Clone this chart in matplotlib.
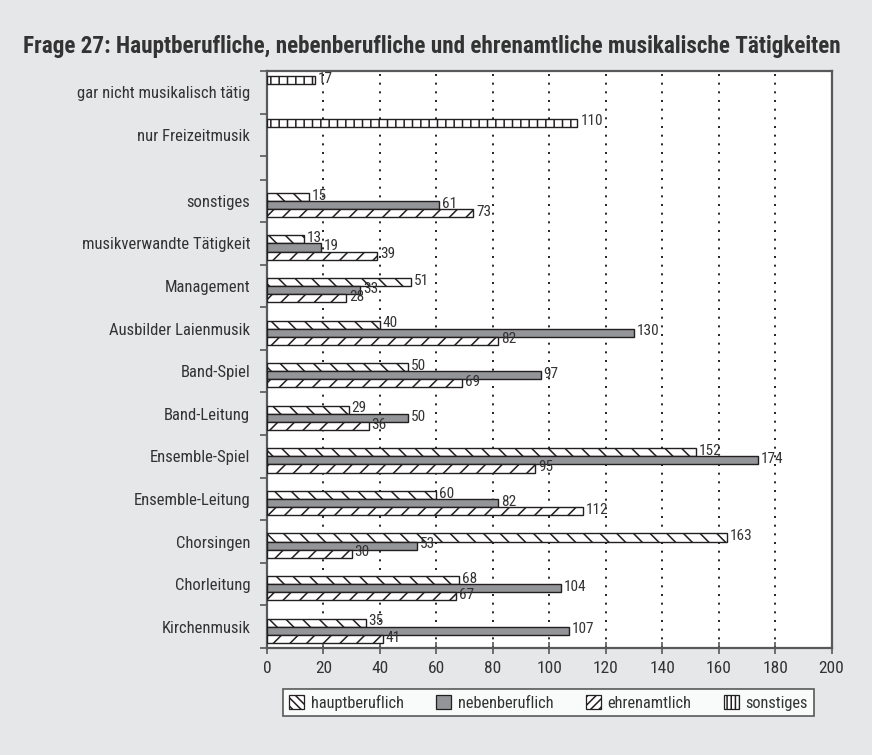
import numpy as np
import matplotlib
matplotlib.use("Agg")
from matplotlib import pyplot as plt
from matplotlib import font_manager
from matplotlib.patches import Patch

# categories top to bottom ("" is the blank spacer row)
categories = ["gar nicht musikalisch tätig", "nur Freizeitmusik", "",
              "sonstiges", "musikverwandte Tätigkeit", "Management",
              "Ausbilder Laienmusik", "Band-Spiel", "Band-Leitung",
              "Ensemble-Spiel", "Ensemble-Leitung", "Chorsingen",
              "Chorleitung", "Kirchenmusik"]

sonstiges_vals = [17, 110, None, None, None, None, None, None, None, None, None, None, None, None]
haupt_vals = [None, None, None, 15, 13, 51, 40, 50, 29, 152, 60, 163, 68, 35]
neben_vals = [None, None, None, 61, 19, 33, 130, 97, 50, 174, 82, 53, 104, 107]
ehren_vals = [None, None, None, 73, 39, 28, 82, 69, 36, 95, 112, 30, 67, 41]

series_names = ["sonstiges", "hauptberuflich", "nebenberuflich", "ehrenamtlich"]
x_ticks = list(range(0, 201, 20))

# pick a narrow font if there is one
names = {f.name for f in font_manager.fontManager.ttflist}
main_font = "DejaVu Sans"
for cand in ["Liberation Sans Narrow", "Roboto Condensed", "Open Sans Condensed",
             "DejaVu Sans Condensed", "Liberation Sans"]:
    if cand in names:
        main_font = cand
        break
plt.rcParams["font.family"] = [main_font, "DejaVu Sans"]
plt.rcParams["hatch.linewidth"] = 1.1

bg = "#e6e7e8"
txt = "#333333"
edge = "#231f20"
spine_col = "#58595b"

fig = plt.figure(figsize=(8.72, 7.55), dpi=100, facecolor=bg)
ax = fig.add_axes([0.3062, 0.1417, 0.6474, 0.7643])
ax.set_facecolor("white")

# slot heights (spacer row is narrower)
slot = np.array([0.55 if c == "" else 1.0 for c in categories])
bounds = np.concatenate([[0], np.cumsum(slot)])
centers = (bounds[:-1] + bounds[1:]) / 2

bh = 0.19
styles = [
    dict(color="white", hatch="||"),
    dict(color="white", hatch="\\\\"),
    dict(color="#939598", hatch=None),
    dict(color="white", hatch="//"),
]
# denser hatches for the small legend squares
legend_hatch = ["||||", "\\\\\\\\", None, "////"]
all_vals = [sonstiges_vals, haupt_vals, neben_vals, ehren_vals]

for k, (vals, st) in enumerate(zip(all_vals, styles)):
    offs = (k - 1.5) * bh
    for i, v in enumerate(vals):
        if v is None:
            continue
        y = centers[i] + offs
        ax.barh(y, v, height=bh, color=st["color"], hatch=st["hatch"],
                edgecolor=edge, linewidth=1.0, zorder=3)
        ax.text(v + 1.0, y - 0.03, str(v), va="center", ha="left",
                fontsize=11, color=txt, zorder=4)

ax.set_xlim(0, 200)
ax.set_ylim(bounds[-1], 0)
ax.set_xticks(x_ticks)
ax.set_xticklabels([str(t) for t in x_ticks], fontsize=12.5, color=txt)
ax.set_yticks(bounds)
ax.set_yticklabels([])
ax.set_yticks(centers, minor=True)
ax.set_yticklabels(categories, minor=True, fontsize=12, color=txt)
ax.tick_params(axis="y", which="minor", length=0, pad=12)
ax.tick_params(axis="y", which="major", direction="out", length=5,
               color=spine_col, width=1.2)
ax.tick_params(axis="x", direction="inout", length=8, color=spine_col,
               width=1.2, pad=5)

for s in ax.spines.values():
    s.set_color(spine_col)
    s.set_linewidth(1.6)

for t in x_ticks[1:-1]:
    ax.axvline(t, color="black", linestyle=(0, (1.2, 4)), linewidth=1.2, zorder=1)

title = fig.text(0.026, 0.939,
                 "Frage 27: Hauptberufliche, nebenberufliche und ehrenamtliche musikalische Tätigkeiten",
                 fontsize=13.5, fontweight="bold", color=txt, ha="left", va="center")
# size the title so it spans the same width as in the print
fig.canvas.draw()
w = title.get_window_extent().width
title.set_fontsize(13.5 * 822 / w)

handles = [Patch(facecolor=styles[k]["color"], hatch=legend_hatch[k],
                 edgecolor=edge, linewidth=0.9) for k in (1, 2, 3, 0)]
labels = [series_names[k] for k in (1, 2, 3, 0)]
leg = fig.legend(handles, labels, loc="center", bbox_to_anchor=(0.629, 0.0695),
                 ncol=4, frameon=True, fancybox=False, fontsize=11.8,
                 handlelength=0.9, handleheight=0.9, handletextpad=0.4,
                 columnspacing=2.0, borderpad=0.35, borderaxespad=0, edgecolor="#333333")
leg.get_frame().set_linewidth(1.2)
for t in leg.get_texts():
    t.set_color(txt)

fig.savefig("out.png", dpi=100, facecolor=bg)
